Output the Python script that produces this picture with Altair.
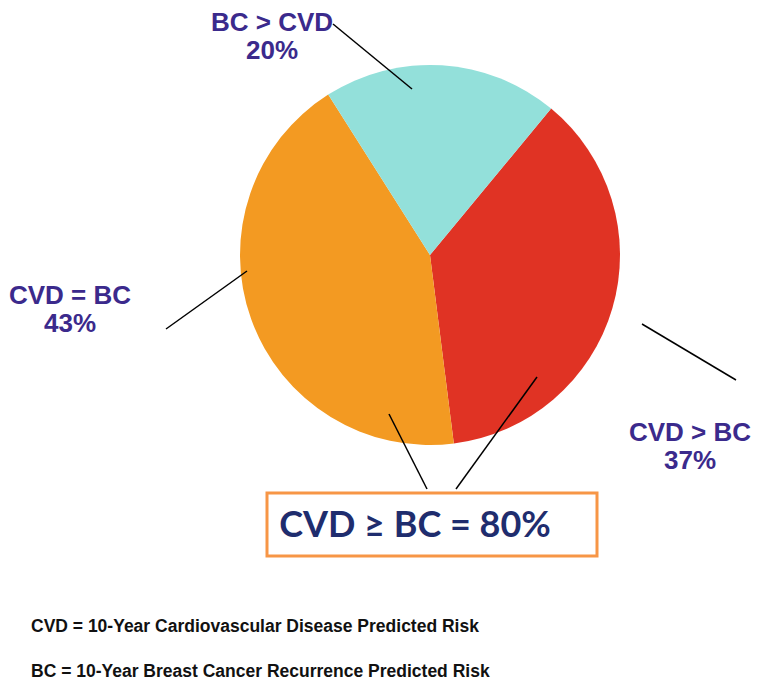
import math
import altair as alt
import pandas as pd

# pie data
categories = ["CVD > BC", "CVD = BC", "BC > CVD"]
shares = [37, 43, 20]
colors = ["#E03324", "#F39A22", "#93E0DA"]

# annotation texts
label_lines = [["BC > CVD", "20%"], ["CVD = BC", "43%"], ["CVD > BC", "37%"]]
summary_text = "CVD \u2265 BC = 80%"
footnotes = [
    "CVD = 10-Year Cardiovascular Disease Predicted Risk",
    "BC = 10-Year Breast Cancer Recurrence Predicted Risk",
]

# layout (page pixel coordinates)
label_pos = [(272, 23), (70, 296), (690, 433)]
line_gap = 28
leaders = [
    (333, 24, 412, 89),
    (166, 329, 247, 271),
    (642, 324, 736, 380),
    (389, 414, 427, 489),
    (537, 377, 456, 489),
]
box = (267, 493, 597, 556)
summary_pos = (415, 526)
foot_pos = [(31, 632), (31, 677)]

W, H = 746, 674
xs = alt.Scale(domain=[8, 8 + W], range=[0, W])
ys = alt.Scale(domain=[8, 8 + H], range=[0, H])

pie_df = pd.DataFrame({"cat": categories, "share": shares, "ord": list(range(len(shares)))})
start = math.radians(39.6)
pie = alt.Chart(pie_df).mark_arc(radius=190).encode(
    theta=alt.Theta("share:Q", stack=True, scale=alt.Scale(range=[start, start + 2 * math.pi])),
    order=alt.Order("ord:Q"),
    color=alt.Color("cat:N", scale=alt.Scale(domain=categories, range=colors), legend=None),
    x=alt.value(430 - 8),
    y=alt.value(255 - 8),
)

rows = []
for (lx, ly), lines in zip(label_pos, label_lines):
    for i, t in enumerate(lines):
        rows.append({"x": lx, "y": ly + i * line_gap, "t": t})
lab_df = pd.DataFrame(rows)
labels = alt.Chart(lab_df).mark_text(
    font="Liberation Sans", fontWeight="bold", fontSize=26, color="#3B2A8C",
    align="center", baseline="middle"
).encode(x=alt.X("x:Q", scale=xs, axis=None), y=alt.Y("y:Q", scale=ys, axis=None), text="t:N")

ld = pd.DataFrame([{"x": a, "y": b, "x2": c, "y2": d} for a, b, c, d in leaders])
lines_layer = alt.Chart(ld).mark_rule(color="black", strokeWidth=1.5).encode(
    x=alt.X("x:Q", scale=xs, axis=None), y=alt.Y("y:Q", scale=ys, axis=None), x2="x2:Q", y2="y2:Q"
)

bd = pd.DataFrame([{"x": box[0], "y": box[1], "x2": box[2], "y2": box[3]}])
box_layer = alt.Chart(bd).mark_rect(fill="white", stroke="#F79646", strokeWidth=3).encode(
    x=alt.X("x:Q", scale=xs, axis=None), y=alt.Y("y:Q", scale=ys, axis=None), x2="x2:Q", y2="y2:Q"
)

sd = pd.DataFrame([{"x": summary_pos[0], "y": summary_pos[1], "t": summary_text}])
summary = alt.Chart(sd).mark_text(
    font="Lato", fontWeight="bold", fontSize=36, color="#1F2D6E", align="center", baseline="middle"
).encode(x=alt.X("x:Q", scale=xs, axis=None), y=alt.Y("y:Q", scale=ys, axis=None), text="t:N")

fd = pd.DataFrame([{"x": p[0], "y": p[1], "t": t} for p, t in zip(foot_pos, footnotes)])
foot = alt.Chart(fd).mark_text(
    font="Liberation Sans", fontWeight="bold", fontSize=17.5, color="#111111",
    align="left", baseline="alphabetic"
).encode(x=alt.X("x:Q", scale=xs, axis=None), y=alt.Y("y:Q", scale=ys, axis=None), text="t:N")

chart = alt.layer(pie, lines_layer, box_layer, summary, labels, foot).properties(
    width=W, height=H, padding=0, autosize=alt.AutoSizeParams(type="none")
).configure_view(stroke=None).resolve_scale(color="independent")

chart.save("out.html", embed_options={"renderer": "svg", "actions": False})
